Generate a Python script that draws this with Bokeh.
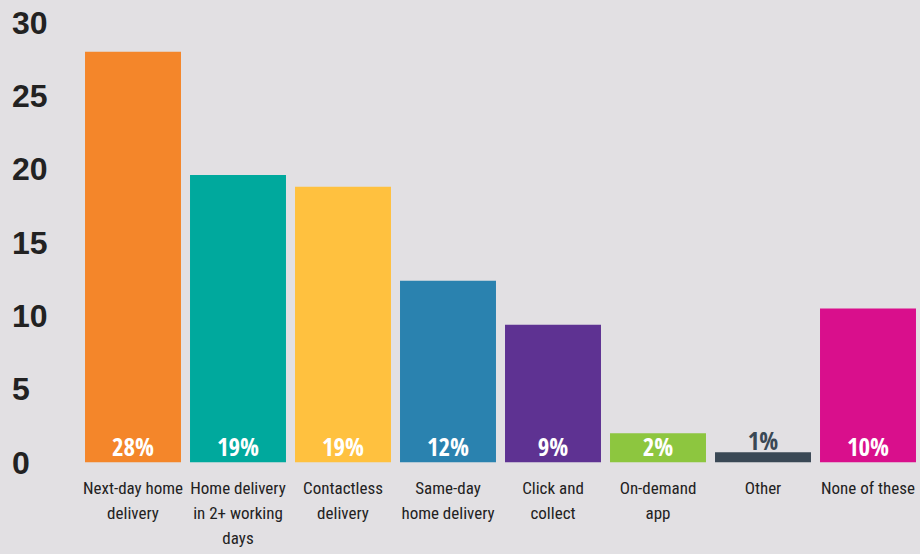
from bokeh.plotting import figure
from bokeh.models import ColumnDataSource, FactorRange, Range1d, FixedTicker
from bokeh.core.properties import value
from bokeh.embed import file_html
from bokeh.resources import INLINE

categories = ["Next-day home\ndelivery", "Home delivery\nin 2+ working\ndays",
              "Contactless\ndelivery", "Same-day\nhome delivery", "Click and\ncollect",
              "On-demand\napp", "Other", "None of these"]
values = [28.0, 19.6, 18.8, 12.4, 9.4, 2.0, 0.7, 10.5]
pct_labels = ["28%", "19%", "19%", "12%", "9%", "2%", "1%", "10%"]
colors = ["#F4862A", "#00A99D", "#FFC13F", "#2A82AF", "#5E3292", "#8DC63F", "#3A4855", "#D90F8C"]
yticks = [0, 5, 10, 15, 20, 25, 30]

BG = "#E2E0E3"
XFONT = "'Roboto Condensed', 'Roboto', sans-serif"
PFONT = "'Open Sans Condensed', 'Roboto Condensed', sans-serif"

src = ColumnDataSource(dict(cat=categories, val=values, color=colors))

p = figure(x_range=FactorRange(*categories, range_padding=0), y_range=Range1d(0, 30),
           width=920, height=554, output_backend="svg", toolbar_location=None,
           min_border_left=80, min_border_right=0, min_border_top=22, min_border_bottom=92,
           background_fill_color=BG, border_fill_color=BG, outline_line_color=None)
p.styles = {"background-color": BG}

p.vbar(x="cat", top="val", width=0.914, color="color", source=src, line_color=None)

inside = [i for i in range(len(values)) if values[i] >= 1.5]
outside = [i for i in range(len(values)) if values[i] < 1.5]
t1 = p.text(x=[categories[i] for i in inside], y=[0] * len(inside), text=[pct_labels[i] for i in inside],
            y_offset=-17, text_align="center", text_baseline="alphabetic", text_color="white",
            text_font=value(PFONT), text_font_style="bold", text_font_size="25px")
t1.level = "overlay"
t2 = p.text(x=[categories[i] for i in outside], y=[values[i] for i in outside],
            text=[pct_labels[i] for i in outside],
            y_offset=-12, text_align="center", text_baseline="alphabetic", text_color="#3A4855",
            text_font=value(PFONT), text_font_style="bold", text_font_size="25px")
t2.level = "overlay"

# category labels under the bars
cat_text = p.text(x=categories, y=[0] * len(categories), text=categories,
                  y_offset=15, text_align="center", text_baseline="top", text_color="#222222",
                  text_font=value(XFONT), text_font_size="17px", text_line_height=1.25)
cat_text.level = "overlay"

p.xgrid.visible = False
p.ygrid.visible = False
p.xaxis.visible = False

p.yaxis.ticker = FixedTicker(ticks=yticks)
p.yaxis.major_label_overrides = {0: "0\u00a0\u00a0", 5: "5\u00a0\u00a0"}
p.yaxis.axis_line_color = None
p.yaxis.major_tick_line_color = None
p.yaxis.minor_tick_line_color = None
p.yaxis.major_tick_out = 0
p.yaxis.major_label_standoff = 33
p.yaxis.major_label_text_font = "Liberation Sans"
p.yaxis.major_label_text_font_style = "bold"
p.yaxis.major_label_text_font_size = "32px"
p.yaxis.major_label_text_color = "#222222"

open("out.html", "w").write(file_html(p, INLINE))
